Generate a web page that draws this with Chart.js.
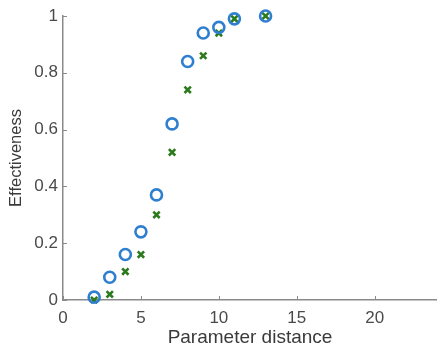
<!DOCTYPE html>
<html>
<head>
<meta charset="UTF-8">
<title>Effectiveness</title>
<script src="https://cdn.jsdelivr.net/npm/chart.js"></script>
<style>
  html, body { margin: 0; padding: 0; background: #fff; overflow: hidden; }
  canvas { display: block; }
</style>
</head>
<body>
<canvas id="grafico" width="437" height="349"></canvas>
<script>
  // valores
  const distancia = [2, 3, 4, 5, 6, 7, 8, 9, 10, 11, 13];
  const circulos = [0.01, 0.08, 0.16, 0.24, 0.37, 0.62, 0.84, 0.94, 0.96, 0.99, 1.0];
  const cruzes   = [0.00, 0.02, 0.10, 0.16, 0.30, 0.52, 0.74, 0.86, 0.94, 0.99, 1.0];
  const xTicks = [0, 5, 10, 15, 20];
  const yTicks = [0, 0.2, 0.4, 0.6, 0.8, 1];

  const pares = (ys) => distancia.map((x, i) => ({ x: x, y: ys[i] }));
  const corEixo = '#8a8a8a';
  const corTexto = '#4a4a4a';
  const fonte = 'Liberation Sans, Arial, sans-serif';

  // ticks para dentro, estilo matlab
  const ticksDentro = {
    id: 'ticksDentro',
    afterDraw(chart) {
      const ctx = chart.ctx;
      const sx = chart.scales.x, sy = chart.scales.y;
      const a = chart.chartArea;
      ctx.save();
      ctx.strokeStyle = corEixo;
      ctx.lineWidth = 1;
      ctx.beginPath();
      xTicks.forEach(v => {
        const px = Math.round(sx.getPixelForValue(v)) + 0.5;
        ctx.moveTo(px, a.bottom);
        ctx.lineTo(px, a.bottom - 4);
      });
      yTicks.forEach(v => {
        const py = Math.round(sy.getPixelForValue(v)) + 0.5;
        ctx.moveTo(a.left, py);
        ctx.lineTo(a.left + 4, py);
      });
      ctx.stroke();
      ctx.restore();
    }
  };

  new Chart(document.getElementById('grafico'), {
    type: 'scatter',
    data: {
      datasets: [
        {
          label: 'circulos',
          data: pares(circulos),
          pointStyle: 'circle',
          pointRadius: 5.5,
          pointHoverRadius: 5.5,
          borderColor: '#2f7fd0',
          backgroundColor: 'rgba(0,0,0,0)',
          pointBorderWidth: 2.6,
          clip: false
        },
        {
          label: 'cruzes',
          data: pares(cruzes),
          pointStyle: 'crossRot',
          pointRadius: 4.5,
          pointHoverRadius: 4.5,
          borderColor: '#2b7a1c',
          backgroundColor: '#2b7a1c',
          pointBorderWidth: 2.6,
          clip: false
        }
      ]
    },
    options: {
      responsive: false,
      animation: false,
      layout: { autoPadding: false, padding: { top: 16, right: 0, left: 1, bottom: 0 } },
      plugins: { legend: { display: false }, tooltip: { enabled: false } },
      scales: {
        x: {
          type: 'linear',
          min: 0, max: 24,
          afterBuildTicks: (s) => { s.ticks = xTicks.map(v => ({ value: v })); },
          afterFit: (s) => { s.height = 49; },
          grid: { drawOnChartArea: false, drawTicks: false },
          border: { display: true, color: corEixo, width: 1.5 },
          ticks: {
            color: corTexto, padding: 8,
            font: { family: fonte, size: 17 }
          },
          title: {
            display: true, text: 'Parameter distance', color: '#3a3a3a',
            padding: { top: 0, bottom: 0 },
            font: { family: fonte, size: 19 }
          }
        },
        y: {
          min: 0, max: 1,
          afterBuildTicks: (s) => { s.ticks = yTicks.map(v => ({ value: v })); },
          afterFit: (s) => { s.width = 62; },
          grid: { drawOnChartArea: false, drawTicks: false },
          border: { display: true, color: corEixo, width: 1.5 },
          ticks: {
            color: corTexto, padding: 5,
            callback: (v) => String(Math.round(v * 10) / 10),
            font: { family: fonte, size: 17 }
          },
          title: {
            display: true, text: 'Effectiveness', color: '#3a3a3a',
            padding: { top: 6, bottom: 0 },
            font: { family: fonte, size: 16.5 }
          }
        }
      }
    },
    plugins: [ticksDentro]
  });
</script>
</body>
</html>
